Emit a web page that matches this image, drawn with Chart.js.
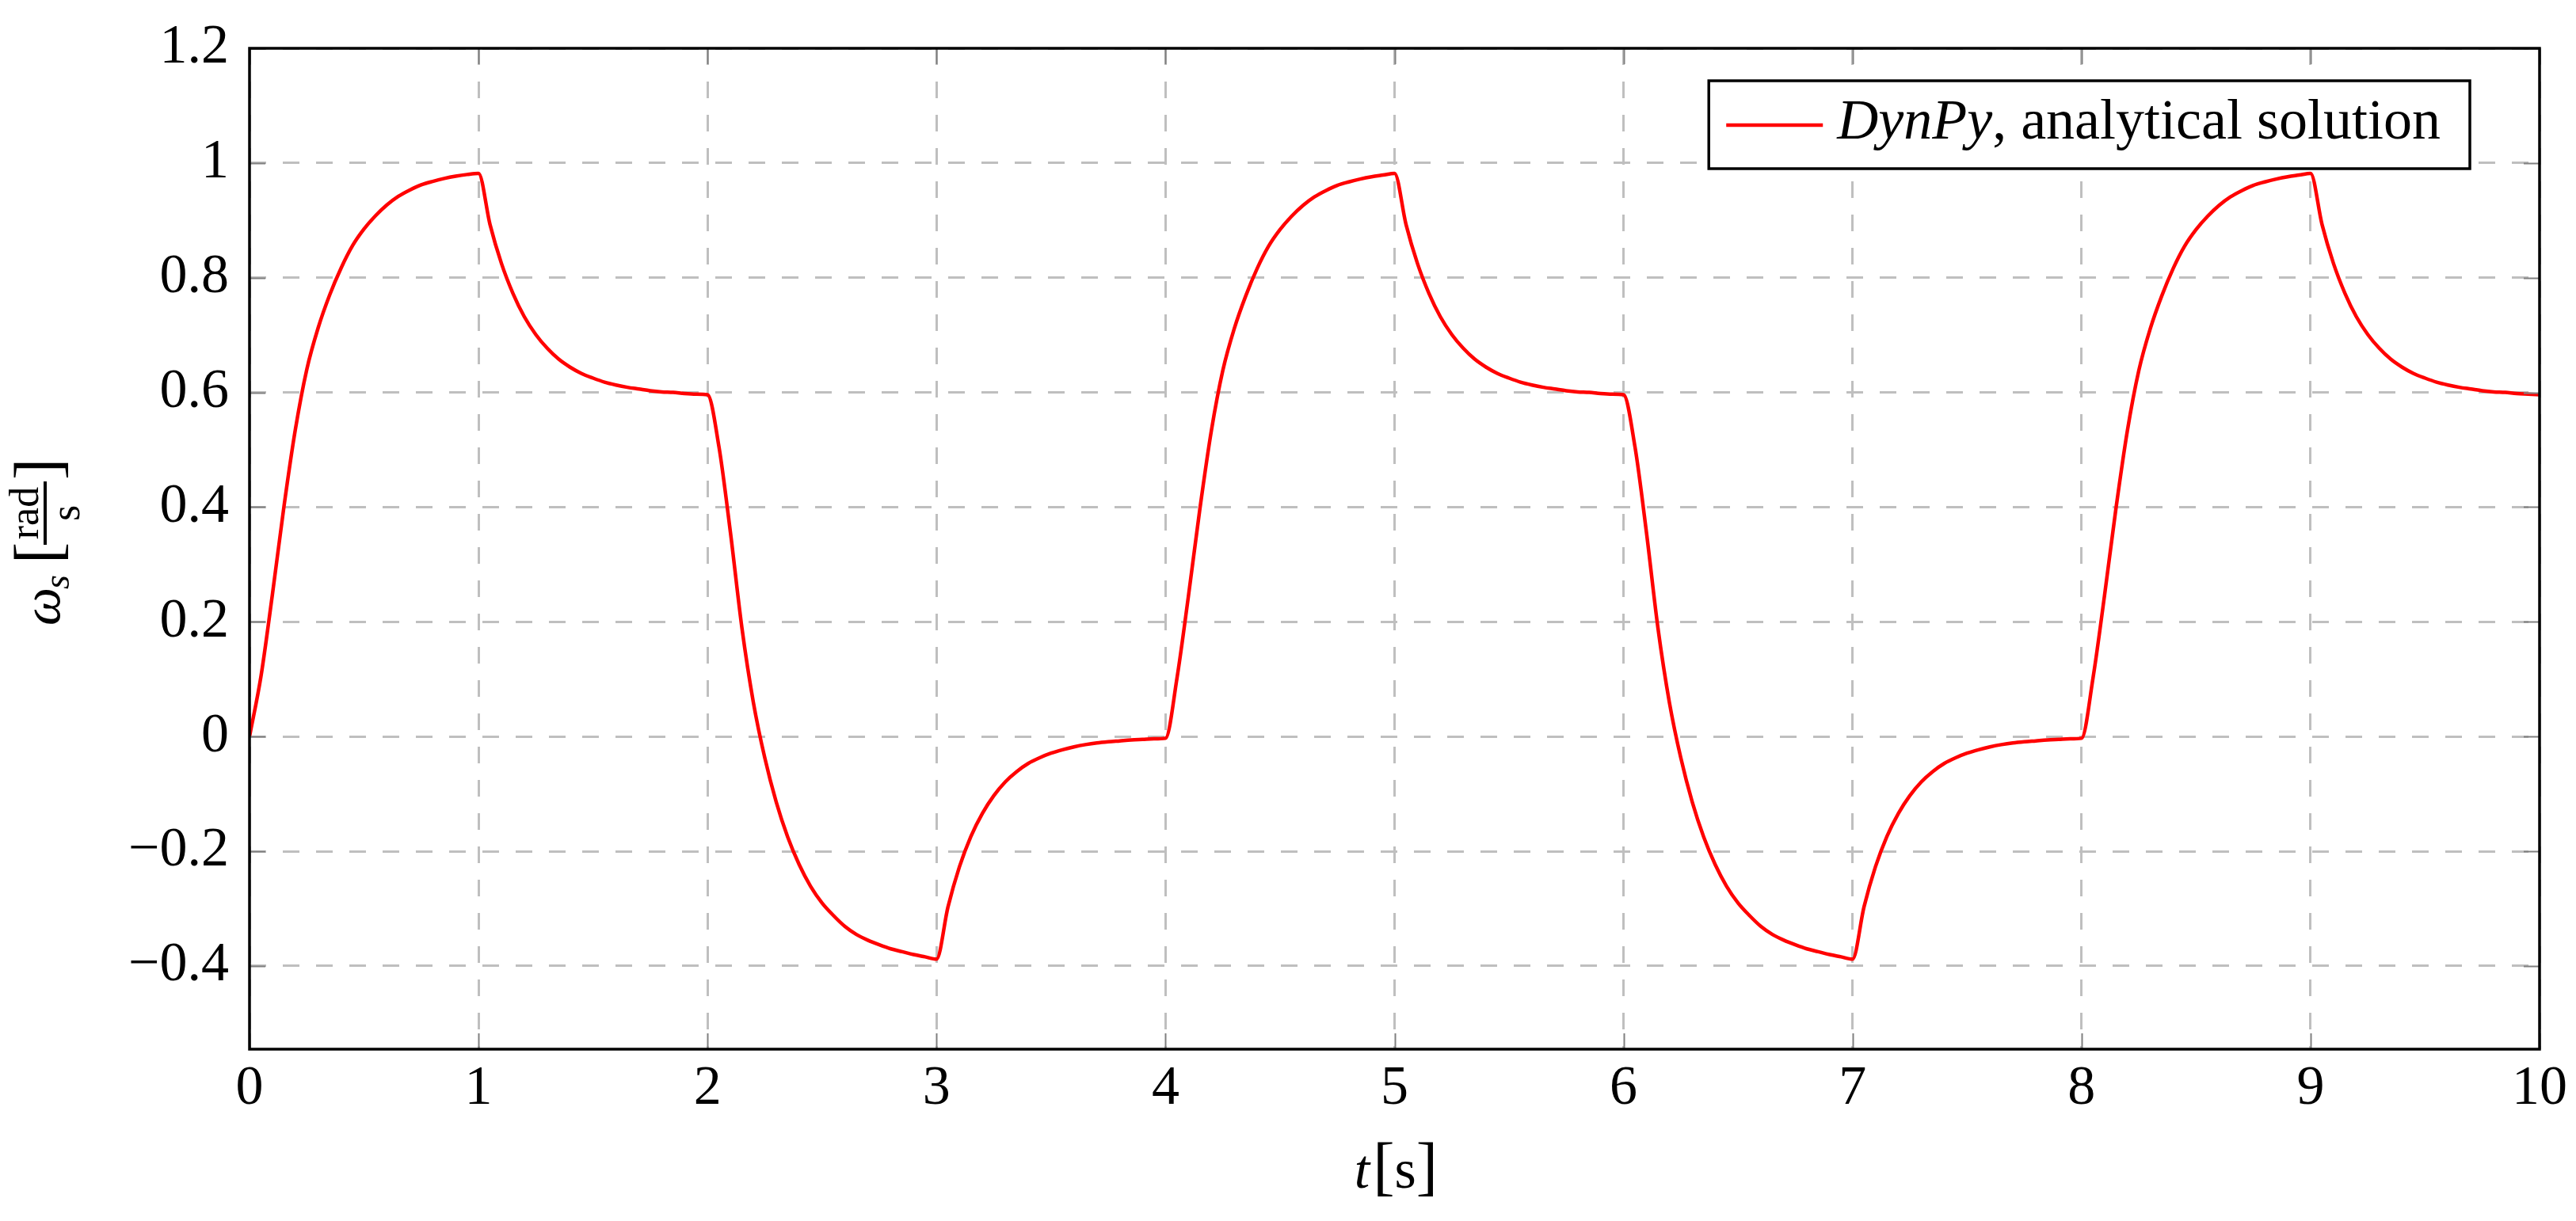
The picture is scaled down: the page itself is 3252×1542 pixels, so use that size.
<!DOCTYPE html>
<html lang="en">
<head>
<meta charset="UTF-8">
<title>DynPy, analytical solution</title>
<script src="https://cdn.jsdelivr.net/npm/chart.js"></script>
<style>
    html, body { margin: 0; padding: 0; background: #fff; }
    canvas { display: block; }
</style>
</head>
<body>
<canvas id="chart" width="3252" height="1542"></canvas>
<script>
    // sampling step of the read curve, in seconds
    const timeStep = 0.05;

    // omega_s every 0.05 s, one line per second
    const omega = [
        0, 0.105, 0.248, 0.400, 0.535, 0.640, 0.713, 0.770, 0.817, 0.856, 0.885, 0.908, 0.927, 0.942, 0.953, 0.962, 0.968, 0.973, 0.977, 0.980,
        0.982, 0.893, 0.825, 0.773, 0.732, 0.701, 0.677, 0.658, 0.644, 0.633, 0.625, 0.618, 0.613, 0.609, 0.606, 0.603, 0.601, 0.600, 0.598, 0.597,
        0.596, 0.505, 0.356, 0.190, 0.060, -0.037, -0.114, -0.175, -0.223, -0.261, -0.290, -0.312, -0.331, -0.345, -0.355, -0.363, -0.370, -0.375, -0.380, -0.384,
        -0.388, -0.297, -0.227, -0.174, -0.134, -0.103, -0.079, -0.061, -0.047, -0.037, -0.029, -0.023, -0.018, -0.014, -0.011, -0.009, -0.0075, -0.006, -0.005, -0.004,
        -0.003, 0.102, 0.245, 0.397, 0.533, 0.638, 0.711, 0.768, 0.816, 0.855, 0.884, 0.907, 0.926, 0.941, 0.952, 0.961, 0.967, 0.972, 0.976, 0.979,
        0.982, 0.893, 0.825, 0.773, 0.732, 0.701, 0.677, 0.658, 0.644, 0.633, 0.625, 0.618, 0.613, 0.609, 0.606, 0.603, 0.601, 0.600, 0.598, 0.597,
        0.596, 0.505, 0.356, 0.190, 0.060, -0.037, -0.114, -0.175, -0.223, -0.261, -0.290, -0.312, -0.331, -0.345, -0.355, -0.363, -0.370, -0.375, -0.380, -0.384,
        -0.388, -0.297, -0.227, -0.174, -0.134, -0.103, -0.079, -0.061, -0.047, -0.037, -0.029, -0.023, -0.018, -0.014, -0.011, -0.009, -0.0075, -0.006, -0.005, -0.004,
        -0.003, 0.102, 0.245, 0.397, 0.533, 0.638, 0.711, 0.768, 0.816, 0.855, 0.884, 0.907, 0.926, 0.941, 0.952, 0.961, 0.967, 0.972, 0.976, 0.979,
        0.982, 0.893, 0.825, 0.773, 0.732, 0.701, 0.677, 0.658, 0.644, 0.633, 0.625, 0.618, 0.613, 0.609, 0.606, 0.603, 0.601, 0.600, 0.598, 0.597,
        0.596
    ];

    const xTicks = [0, 1, 2, 3, 4, 5, 6, 7, 8, 9, 10];
    const xTickLabels = ['0', '1', '2', '3', '4', '5', '6', '7', '8', '9', '10'];
    const yTicks = [-0.4, -0.2, 0, 0.2, 0.4, 0.6, 0.8, 1, 1.2];
    const yTickLabels = ['\u22120.4', '\u22120.2', '0', '0.2', '0.4', '0.6', '0.8', '1', '1.2'];

    const legendName = 'DynPy';
    const legendRest = ', analytical solution';

    const serif = '"Liberation Serif", "Times New Roman", serif';
    const red = '#ff0000';

    const points = omega.map((v, i) => ({ x: +(i * timeStep).toFixed(2), y: v }));

    // frame, inner tick marks, legend box and the two axis titles
    const decorations = {
        id: 'decorations',
        afterDatasetsDraw(chart) {
            const { ctx, chartArea: a, scales: { x, y } } = chart;
            ctx.save();

            // small grey ticks pointing inwards on all four sides
            ctx.strokeStyle = '#808080';
            ctx.lineWidth = 2;
            ctx.beginPath();
            xTicks.forEach(v => {
                const px = Math.round(x.getPixelForValue(v)) + 0.5;
                ctx.moveTo(px, a.bottom); ctx.lineTo(px, a.bottom - 20);
                ctx.moveTo(px, a.top); ctx.lineTo(px, a.top + 20);
            });
            yTicks.forEach(v => {
                const py = Math.round(y.getPixelForValue(v)) + 0.5;
                ctx.moveTo(a.left, py); ctx.lineTo(a.left + 20, py);
                ctx.moveTo(a.right, py); ctx.lineTo(a.right - 20, py);
            });
            ctx.stroke();

            // axis frame
            ctx.strokeStyle = '#000';
            ctx.lineWidth = 3.5;
            ctx.strokeRect(a.left, a.top, a.right - a.left, a.bottom - a.top);

            // legend
            ctx.textBaseline = 'alphabetic';
            ctx.textAlign = 'left';
            ctx.font = 'italic 72px ' + serif;
            const wName = ctx.measureText(legendName).width;
            ctx.font = '72px ' + serif;
            const wRest = ctx.measureText(legendRest).width;
            const boxW = 162 + wName + wRest + 37;
            const boxH = 111;
            const boxR = a.right - 88;
            const boxL = boxR - boxW;
            const boxT = a.top + 41;
            ctx.fillStyle = '#fff';
            ctx.fillRect(boxL, boxT, boxW, boxH);
            ctx.strokeStyle = '#000';
            ctx.lineWidth = 3.5;
            ctx.strokeRect(boxL, boxT, boxW, boxH);
            ctx.strokeStyle = red;
            ctx.lineWidth = 4.5;
            ctx.beginPath();
            ctx.moveTo(boxL + 22, boxT + 56);
            ctx.lineTo(boxL + 144, boxT + 56);
            ctx.stroke();
            ctx.fillStyle = '#000';
            ctx.font = 'italic 72px ' + serif;
            ctx.fillText(legendName, boxL + 162, boxT + 73);
            ctx.font = '72px ' + serif;
            ctx.fillText(legendRest, boxL + 162 + wName, boxT + 73);

            // x title: t[s]
            const xParts = [
                ['t', 'italic 70px '],
                ['[', '82px '],
                ['s', '70px '],
                [']', '82px ']
            ];
            let total = 0;
            const widths = xParts.map(([txt, f]) => { ctx.font = f + serif; const w = ctx.measureText(txt).width; total += w; return w; });
            let cx = (a.left + a.right) / 2 - total / 2;
            xParts.forEach(([txt, f], i) => {
                ctx.font = f + serif;
                ctx.fillText(txt, cx, 1500);
                cx += widths[i] + (i === 0 ? 4 : 0);
            });

            // y title: omega_s [rad / s], rotated
            ctx.translate(75, 790);
            ctx.rotate(-Math.PI / 2);
            ctx.font = 'italic 68px ' + serif;
            ctx.fillText('\u03c9', 0, 0);
            ctx.font = 'italic 46px ' + serif;
            ctx.fillText('s', 46, 12);
            ctx.font = '82px ' + serif;
            ctx.fillText('[', 78, 0);
            ctx.font = '52px ' + serif;
            ctx.textAlign = 'center';
            ctx.fillText('rad', 142, -27);
            ctx.fillText('s', 142, 25);
            ctx.fillRect(102, -20, 80, 4);
            ctx.textAlign = 'left';
            ctx.font = '82px ' + serif;
            ctx.fillText(']', 184, 0);

            ctx.restore();
        }
    };

    const ctx = document.getElementById('chart').getContext('2d');
    new Chart(ctx, {
        type: 'line',
        data: {
            datasets: [{
                label: legendName + legendRest,
                data: points,
                borderColor: red,
                borderWidth: 4.5,
                pointRadius: 0,
                fill: false,
                cubicInterpolationMode: 'monotone'
            }]
        },
        options: {
            responsive: false,
            animation: false,
            devicePixelRatio: 1,
            layout: { padding: { top: 41, right: 46, left: 0, bottom: 0 } },
            plugins: {
                legend: { display: false },
                tooltip: { enabled: false }
            },
            scales: {
                x: {
                    type: 'linear',
                    min: 0,
                    max: 10,
                    afterBuildTicks: s => { s.ticks = xTicks.map(v => ({ value: v })); },
                    afterFit: s => { s.height = 1542 - 1325; },
                    grid: { color: 'rgb(191,191,191)', lineWidth: 3, drawTicks: false },
                    border: { display: false, dash: [21, 21] },
                    ticks: {
                        color: '#000',
                        padding: 9,
                        maxRotation: 0,
                        autoSkip: false,
                        font: { family: serif, size: 70, lineHeight: 1.2 },
                        callback: (v, i) => xTickLabels[i]
                    }
                },
                y: {
                    type: 'linear',
                    min: -0.545,
                    max: 1.2,
                    afterBuildTicks: s => { s.ticks = yTicks.map(v => ({ value: v })); },
                    afterFit: s => { s.width = 315; },
                    grid: { color: 'rgb(191,191,191)', lineWidth: 3, drawTicks: false },
                    border: { display: false, dash: [21, 21] },
                    ticks: {
                        color: '#000',
                        padding: 26,
                        autoSkip: false,
                        font: { family: serif, size: 70, lineHeight: 1.0 },
                        callback: (v, i) => yTickLabels[i]
                    }
                }
            }
        },
        plugins: [decorations]
    });
</script>
</body>
</html>
